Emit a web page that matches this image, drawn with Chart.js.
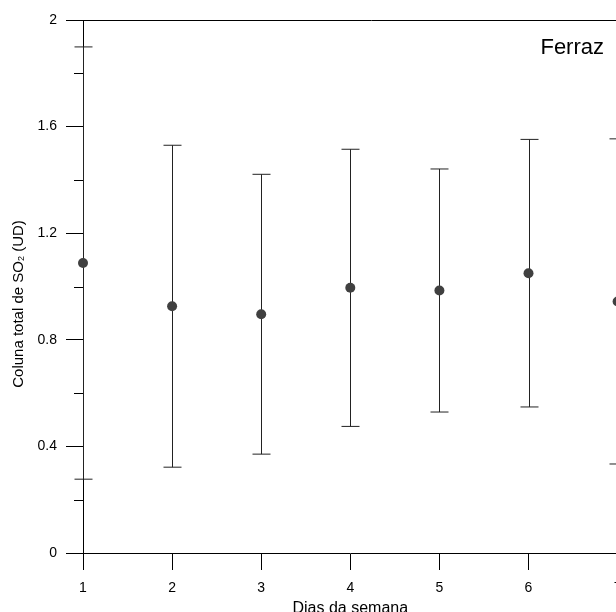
<!DOCTYPE html>
<html>
<head>
<meta charset="utf-8">
<script src="https://cdn.jsdelivr.net/npm/chart.js@4/dist/chart.umd.min.js"></script>
<style>
html, body { margin: 0; padding: 0; background: #fff; overflow: hidden; }
#wrap { width: 660px; height: 640px; }
</style>
</head>
<body>
<div id="wrap"><canvas id="grafico" width="660" height="640"></canvas></div>
<script>
// dias da semana, média e desvio padrão da coluna de SO2
const dias = [1, 2, 3, 4, 5, 6, 7];
const media = [1.088, 0.926, 0.896, 0.995, 0.985, 1.050, 0.944];
const desvio = [0.811, 0.604, 0.525, 0.520, 0.456, 0.502, 0.610];
const yTicks = [0, 0.4, 0.8, 1.2, 1.6, 2];
const yMenores = [0.2, 0.6, 1.0, 1.4, 1.8];
const estacao = 'Ferraz';

const fonte = '"Liberation Sans", Arial, sans-serif';
const ctx = document.getElementById('grafico').getContext('2d');

const barrasErro = {
    id: 'barrasErro',
    beforeDatasetsDraw(chart) {
        const {ctx, scales: {x, y}} = chart;
        ctx.save();
        ctx.strokeStyle = '#222';
        ctx.lineWidth = 1;
        dias.forEach((d, i) => {
            const px = Math.round(x.getPixelForValue(d)) + 0.5;
            const top = y.getPixelForValue(media[i] + desvio[i]);
            const bot = y.getPixelForValue(media[i] - desvio[i]);
            ctx.beginPath();
            ctx.moveTo(px, top); ctx.lineTo(px, bot);
            ctx.moveTo(px - 9, top); ctx.lineTo(px + 9, top);
            ctx.moveTo(px - 9, bot); ctx.lineTo(px + 9, bot);
            ctx.stroke();
        });
        ctx.restore();
    }
};

const extras = {
    id: 'extras',
    afterDraw(chart) {
        const {ctx, chartArea: a, scales: {y}} = chart;
        ctx.save();
        ctx.strokeStyle = '#000';
        ctx.lineWidth = 1;
        // moldura superior
        ctx.beginPath();
        ctx.moveTo(a.left, Math.round(a.top) + 0.5);
        ctx.lineTo(chart.width, Math.round(a.top) + 0.5);
        // ticks menores do eixo y
        yMenores.forEach(v => {
            const py = Math.round(y.getPixelForValue(v)) + 0.5;
            ctx.moveTo(a.left - 9, py);
            ctx.lineTo(a.left, py);
        });
        ctx.stroke();

        // nome da estação
        ctx.fillStyle = '#000';
        ctx.font = '22px ' + fonte;
        ctx.textAlign = 'right';
        ctx.textBaseline = 'alphabetic';
        ctx.fillText(estacao, 604, 54);

        // título do eixo y com subscrito
        const partes = [['Coluna total de SO', 15, 0], ['2', 9, 3], [' (UD)', 15, 0]];
        let total = 0;
        partes.forEach(([t, s]) => { ctx.font = s + 'px ' + fonte; total += ctx.measureText(t).width; });
        ctx.translate(19, 304);
        ctx.rotate(-Math.PI / 2);
        ctx.textAlign = 'left';
        ctx.textBaseline = 'middle';
        let xx = -total / 2;
        partes.forEach(([t, s, dy]) => {
            ctx.font = s + 'px ' + fonte;
            ctx.fillText(t, xx, dy);
            xx += ctx.measureText(t).width;
        });
        ctx.restore();
    }
};

new Chart(ctx, {
    type: 'scatter',
    data: {
        datasets: [{
            data: dias.map((d, i) => ({x: d, y: media[i]})),
            pointRadius: 5,
            pointHoverRadius: 5,
            pointBackgroundColor: '#404040',
            pointBorderWidth: 0,
            clip: false
        }]
    },
    options: {
        responsive: false,
        animation: false,
        devicePixelRatio: 1,
        layout: {padding: {left: 0, top: 20, right: 42.4, bottom: 0}},
        plugins: {legend: {display: false}, tooltip: {enabled: false}},
        scales: {
            x: {
                type: 'linear', min: 1, max: 7,
                ticks: {stepSize: 1, padding: 10, color: '#000', font: {family: fonte, size: 14}},
                grid: {drawOnChartArea: false, drawTicks: true, tickLength: 17, tickColor: '#000'},
                border: {display: true, color: '#000', width: 1},
                title: {display: true, text: 'Dias da semana', color: '#000',
                        font: {family: fonte, size: 16}, padding: {top: 0, bottom: 22}},
                afterFit(s) { s.height = 87; }
            },
            y: {
                type: 'linear', min: 0, max: 2,
                afterBuildTicks(s) { s.ticks = yTicks.map(v => ({value: v})); },
                ticks: {padding: 9, color: '#000', font: {family: fonte, size: 14},
                        callback: v => String(v)},
                grid: {drawOnChartArea: false, drawTicks: true, tickLength: 17, tickColor: '#000'},
                border: {display: true, color: '#000', width: 1},
                afterFit(s) { s.width = 83; }
            }
        }
    },
    plugins: [barrasErro, extras]
});
</script>
</body>
</html>
